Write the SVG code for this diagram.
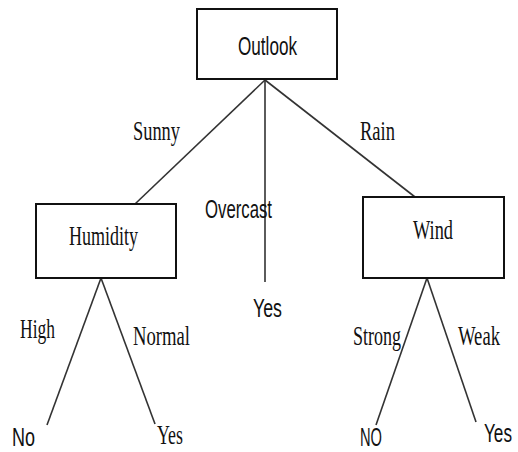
<svg xmlns="http://www.w3.org/2000/svg" width="518" height="452" viewBox="0 0 518 452">
<style>
.box{fill:#fff;stroke:#111;stroke-width:2}
.ln{stroke:#333;stroke-width:1.6;fill:none}
text.serif{font-family:"Liberation Serif","Times New Roman",serif;font-size:27px;fill:#111}
text.sans{font-family:"Liberation Sans",Arial,sans-serif;font-size:25px;fill:#111}
</style>
<rect width="518" height="452" fill="#fff"/>
<g id="connectors">
<line class="ln" x1="265" y1="80" x2="135" y2="204"/>
<line class="ln" x1="265" y1="80" x2="265" y2="282"/>
<line class="ln" x1="265" y1="80" x2="415" y2="197"/>
<line class="ln" x1="101" y1="278" x2="47" y2="425"/>
<line class="ln" x1="101" y1="278" x2="155" y2="424"/>
<line class="ln" x1="427" y1="278" x2="376" y2="425"/>
<line class="ln" x1="427" y1="278" x2="476" y2="422"/>
<text class="serif" x="133" y="140" textLength="47" lengthAdjust="spacingAndGlyphs">Sunny</text>
<text class="serif" x="360" y="140" textLength="35" lengthAdjust="spacingAndGlyphs">Rain</text>
<text class="serif" x="20" y="338" textLength="35" lengthAdjust="spacingAndGlyphs">High</text>
<text class="serif" x="133" y="345" textLength="57" lengthAdjust="spacingAndGlyphs">Normal</text>
<text class="serif" x="353" y="345" textLength="48" lengthAdjust="spacingAndGlyphs">Strong</text>
<text class="serif" x="458" y="345" textLength="42" lengthAdjust="spacingAndGlyphs">Weak</text>
<text class="sans" x="205" y="218" textLength="67" lengthAdjust="spacingAndGlyphs">Overcast</text>
</g>
<g id="outlook">
<rect class="box" x="197" y="9" width="140" height="70"/>
<text class="sans" x="238" y="55" textLength="59" lengthAdjust="spacingAndGlyphs">Outlook</text>
</g>
<g id="humidity">
<rect class="box" x="36" y="204" width="140" height="74"/>
<text class="serif" x="69" y="245" textLength="69" lengthAdjust="spacingAndGlyphs">Humidity</text>
</g>
<g id="wind">
<rect class="box" x="363" y="197" width="141" height="81"/>
<text class="serif" x="413" y="239" textLength="40" lengthAdjust="spacingAndGlyphs">Wind</text>
</g>
<g id="yes-overcast">
<text class="sans" x="253" y="317" textLength="29" lengthAdjust="spacingAndGlyphs">Yes</text>
</g>
<g id="no-high">
<text class="sans" x="12" y="446" textLength="23" lengthAdjust="spacingAndGlyphs">No</text>
</g>
<g id="yes-normal">
<text class="serif" x="157" y="444" textLength="26" lengthAdjust="spacingAndGlyphs">Yes</text>
</g>
<g id="no-strong">
<text class="sans" x="360" y="446" textLength="22" lengthAdjust="spacingAndGlyphs">NO</text>
</g>
<g id="yes-weak">
<text class="sans" x="512" y="442" text-anchor="end" textLength="28" lengthAdjust="spacingAndGlyphs">Yes</text>
</g>
</svg>
